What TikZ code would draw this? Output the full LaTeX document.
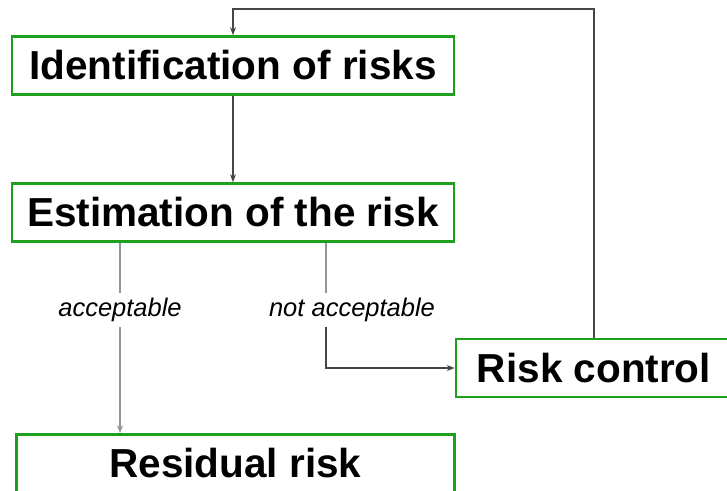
\documentclass[tikz,border=0pt]{standalone}
\usepackage{fontspec}
\setmainfont{Liberation Sans}
\usepackage{xcolor}
\usepackage{tikz}
\usetikzlibrary{arrows.meta, positioning}

\definecolor{boxgreen}{RGB}{30,160,30}
\definecolor{darkline}{RGB}{70,70,70}
\definecolor{lightline}{RGB}{150,150,150}

\begin{document}
\begin{tikzpicture}[
    x=1pt, y=-1pt,
    >={Stealth[length=8pt,width=6pt]},
    box/.style={draw=boxgreen, line width=2.6pt, minimum height=58pt, inner sep=0pt,
      font=\fontsize{40.5}{46}\selectfont\bfseries},
    lbl/.style={font=\fontsize{25.5}{28}\selectfont\itshape, inner sep=5pt},
    link/.style={draw=darkline, line width=1.1pt},
    faint/.style={draw=lightline, line width=1.1pt}
  ]
    \useasboundingbox (0,0) rectangle (727,490);

    % Boxes
    \node[box, minimum width=442pt] (ident) at (233,65.5) {Identification of risks};
    \node[box, minimum width=442pt] (estim) at (233,212.5) {Estimation of the risk};
    \node[box, minimum width=438pt] (resid) at (235.5,463.5) {Residual risk};
    \node[box, minimum width=276pt] (control) at (594,368) {Risk control};

    % Decision labels
    \node[lbl] (acc) at (120,310) {acceptable};
    \node[lbl] (notacc) at (352,310) {not acceptable};
    \coordinate (na) at (326,0);
    \coordinate (top) at (594,9);

    % Connectors
    \draw[link, ->] (ident) -- (estim);
    \draw[link, ->] (control.north) -- (control.north |- top) -| (ident.north);

    \draw[faint] (estim.south -| acc) -- (acc.north);
    \draw[faint, ->] (acc.south) -- (resid.north -| acc);

    \draw[faint] (estim.south -| na) -- (notacc.north -| na);
    \draw[link, ->] (notacc.south -| na) |- (control.west);

\end{tikzpicture}
\end{document}
